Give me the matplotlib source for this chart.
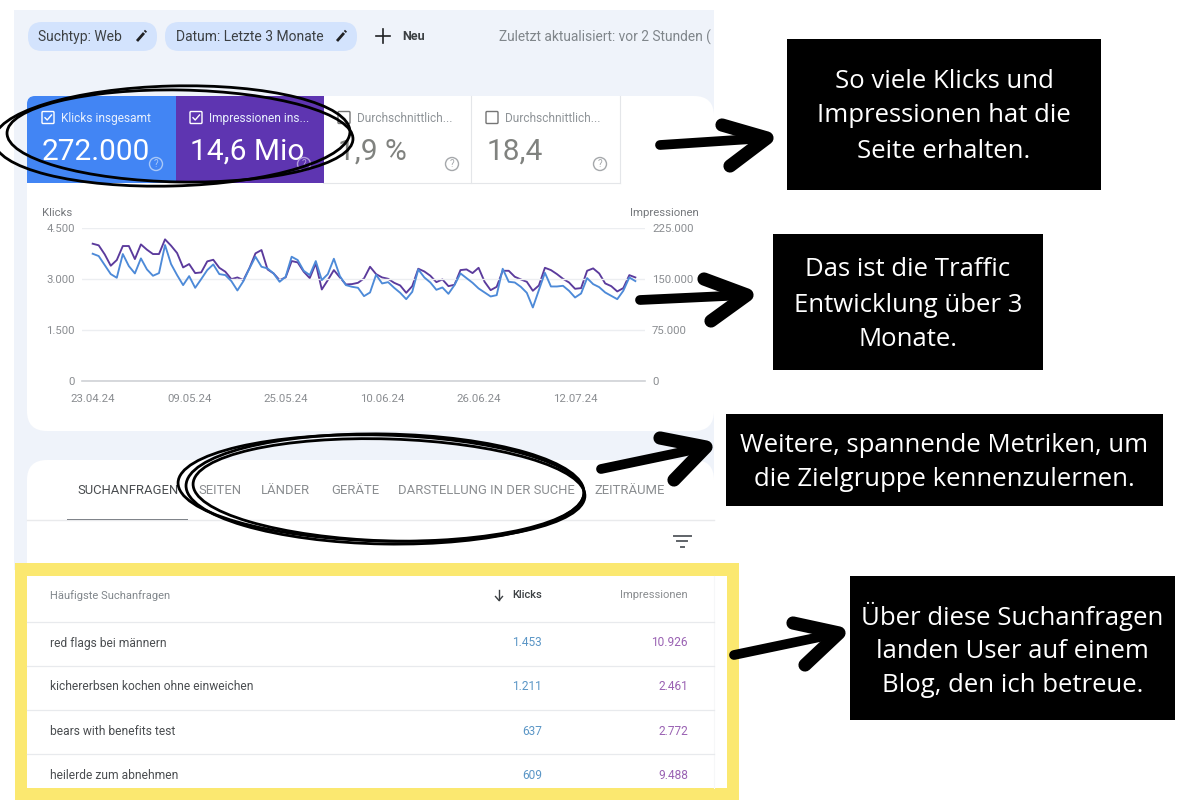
import numpy as np
import matplotlib
matplotlib.use("Agg")
import matplotlib.pyplot as plt
from matplotlib.patches import Rectangle, FancyBboxPatch, Circle, Ellipse

plt.rcParams['font.family'] = ['Roboto', 'DejaVu Sans']

# daily values, 23.04.24 onwards
klicks = [3743, 3675, 3409, 3144, 3036, 3734, 3380, 3164, 3606, 3282, 3095, 3173, 3999,
          3439, 3115, 2820, 3085, 2741, 2997, 3262, 3429, 3144, 3115, 2938, 2663, 2938,
          3311, 3655, 3360, 3311, 3164, 2918, 3065, 3655, 3557, 3242, 3115, 3527, 2967,
          3144, 3596, 3085, 2820, 2771, 2741, 2496, 2604, 3124, 2869, 2908, 2741, 2594,
          2407, 2623, 3282, 3046, 2898, 2682, 2751, 2564, 2820, 3164, 3026, 2889, 2722,
          2604, 2486, 2525, 3301, 2918, 2898, 2771, 2594, 2162, 2672, 3183, 2780, 2780,
          2800, 2653, 2456, 2574, 3026, 2849, 2761, 2604, 2505, 2407, 2653, 3046, 2938]
impressionen = [201900, 199500, 186200, 169500, 177900, 198500, 198500, 179300, 200900,
                193100, 186700, 186700, 208300, 199000, 188200, 167000, 172000, 158700,
                159700, 175900, 178300, 166500, 160700, 149800, 152300, 148400, 166100,
                187700, 192600, 164100, 158200, 148400, 152300, 176400, 174400, 160700,
                151300, 172900, 134600, 148400, 163100, 152300, 142000, 142500, 144400,
                150800, 168000, 157200, 152300, 150300, 144400, 140500, 129700, 139500,
                165100, 161100, 154800, 145400, 149400, 139500, 141500, 163100, 164100,
                158700, 166500, 145900, 133600, 138500, 162100, 162100, 153300, 149400,
                145900, 132700, 140500, 166500, 163100, 157200, 150300, 144900, 135600,
                136600, 162100, 165600, 158200, 143500, 139500, 131700, 136600, 155700,
                152300]
date_ticks = [0, 16, 32, 48, 64, 80]
date_labels = ['23.04.24', '09.05.24', '25.05.24', '10.06.24', '26.06.24', '12.07.24']
klicks_ticks = [0, 1500, 3000, 4500]
klicks_labels = ['0', '1.500', '3.000', '4.500']
impr_ticks = [0, 75000, 150000, 225000]
impr_labels = ['0', '75.000', '150.000', '225.000']

metric_names = ['Klicks insgesamt', 'Impressionen ins...', 'Durchschnittlich...', 'Durchschnittlich...']
metric_values = ['272.000', '14,6 Mio', '1,9 %', '18,4']
tab_names = ['SUCHANFRAGEN', 'SEITEN', 'LÄNDER', 'GERÄTE', 'DARSTELLUNG IN DER SUCHE', 'ZEITRÄUME']
queries = ['red flags bei männern', 'kichererbsen kochen ohne einweichen',
           'bears with benefits test', 'heilerde zum abnehmen']
query_klicks = ['1.453', '1.211', '637', '609']
query_impr = ['10.926', '2.461', '2.772', '9.488']
notes = [['So viele Klicks und', 'Impressionen hat die', 'Seite erhalten.'],
         ['Das ist die Traffic', 'Entwicklung über 3', 'Monate.'],
         ['Weitere, spannende Metriken, um', 'die Zielgruppe kennenzulernen.'],
         ['Über diese Suchanfragen', 'landen User auf einem', 'Blog, den ich betreue.']]

GRAY = '#80868b'
DARK = '#3c4043'

fig = plt.figure(figsize=(12, 8), dpi=100, facecolor='white')


def pixel_axes(z):
    a = fig.add_axes([0, 0, 1, 1], zorder=z)
    a.set_xlim(0, 1200)
    a.set_ylim(800, 0)
    a.axis('off')
    a.patch.set_alpha(0)
    return a


bg = pixel_axes(0)
fg = pixel_axes(3)


def box(a, x0, y0, x1, y1, color, z=1, **kw):
    a.add_patch(Rectangle((x0, y0), x1 - x0, y1 - y0, fc=color, ec=kw.pop('ec', 'none'), zorder=z, **kw))


def rbox(a, x0, y0, x1, y1, r, color, z=1):
    a.add_patch(FancyBboxPatch((x0 + r, y0 + r), x1 - x0 - 2 * r, y1 - y0 - 2 * r,
                               boxstyle='round,pad={},rounding_size={}'.format(r, r),
                               fc=color, ec='none', zorder=z))


def label(a, x, y, s, size=9, color=GRAY, ha='left', weight='normal', family=None, z=5):
    return a.text(x, y, s, fontsize=size, color=color, ha=ha, va='center', fontweight=weight,
                  family=family or ['Roboto', 'DejaVu Sans'], zorder=z)


def checkbox(x, y, color, checked):
    bg.add_patch(FancyBboxPatch((x + 1, y + 1), 10, 10, boxstyle='round,pad=1,rounding_size=1',
                                fc='none', ec=color, lw=1, zorder=5))
    if checked:
        bg.plot([x + 3, x + 5.2, x + 9.5], [y + 6.2, y + 8.5, y + 3.5], color=color, lw=1, zorder=5)


def help_icon(a, x, y, color):
    a.add_patch(Circle((x, y), 6.5, fc='none', ec=color, lw=1, zorder=6))
    label(a, x, y + 0.3, '?', size=7, color=color, ha='center', z=6)


def pencil(x, y):
    bg.plot([x - 4, x + 3], [y + 5, y - 3], color='#202124', lw=2, solid_capstyle='butt', zorder=5)
    bg.plot([x + 3.8, x + 5], [y - 4, y - 5.3], color='#202124', lw=2, solid_capstyle='butt', zorder=5)


# page background and cards
box(bg, 14, 10, 714, 570, '#eff3fa', z=0)
rbox(bg, 27, 96, 714, 431, 20, 'white')
rbox(bg, 27, 460, 714, 600, 20, 'white')

# filter chips
rbox(bg, 28, 22, 157, 51, 14, '#d3e3fd', z=2)
rbox(bg, 165, 22, 357, 51, 14, '#d3e3fd', z=2)
label(bg, 38.5, 37, 'Suchtyp: Web', size=10, color=DARK)
label(bg, 176, 37, 'Datum: Letzte 3 Monate', size=10, color=DARK)
pencil(141, 36)
pencil(341, 36)
bg.plot([383, 383], [29, 43], color='#202124', lw=1.2, zorder=5)
bg.plot([376, 390], [36, 36], color='#202124', lw=1.2, zorder=5)
label(bg, 402, 37, 'Neu', size=9, color=DARK, weight='bold')
label(bg, 499, 37, 'Zuletzt aktualisiert: vor 2 Stunden (', size=9.9, color=GRAY)
box(bg, 714, 20, 785, 55, 'white', z=6)

# metric cards
rbox(bg, 27, 96, 70, 140, 8, '#4285f4', z=2)
box(bg, 27, 106, 176, 183, '#4285f4', z=2)
box(bg, 37, 96, 176, 183, '#4285f4', z=2)
box(bg, 176, 96, 323.5, 183, '#5e35b1', z=2)
bg.plot([471, 471], [96, 183], color='#e4e6e9', lw=0.8, zorder=2)
bg.plot([619.5, 619.5], [96, 183], color='#e4e6e9', lw=0.8, zorder=2)
bg.plot([323, 619.5], [183, 183], color='#e4e6e9', lw=0.8, zorder=2)
card_x = [42, 190, 338, 486]
for i, x in enumerate(card_x):
    on = i < 2
    col = 'white' if on else GRAY
    checkbox(x, 111.5, col if on else '#757575', on)
    label(bg, x + 19, 118.5, metric_names[i], size=8.6, color='#e8f0fe' if on else '#8f9498')
    label(bg, x + (0 if i != 3 else 1), 152, metric_values[i], size=21.5, color=col if on else '#80827f')
    help_icon(bg, x + 114, 164, '#a9c8f7' if i == 0 else '#b39ddb' if i == 1 else '#a5a8ab')

# line chart, axes placed on the grid lines
rect = [82 / 1200, 1 - 381 / 800, (645 - 82) / 1200, (381 - 228) / 800]
ax = fig.add_axes(rect)
ax.patch.set_alpha(0)
days = np.arange(len(klicks))
ax.set_xlim(-1.77, 91.6)
ax.set_ylim(0, 4500)
ax.set_yticks(klicks_ticks)
ax.set_yticklabels(klicks_labels)
ax.set_xticks(date_ticks)
ax.set_xticklabels(date_labels)
ax.tick_params(length=0, labelsize=8.2, labelcolor='#8a8d91')
ax.tick_params(axis='y', pad=5)
ax.tick_params(axis='x', pad=9)
ax.grid(axis='y', color='#eceef1', lw=1)
ax.set_axisbelow(True)
for s in ax.spines.values():
    s.set_visible(False)
ax.axhline(0, color='#cfd2d6', lw=1.2, clip_on=False)

ax2 = ax.twinx()
ax2.set_ylim(0, 225000)
ax2.set_yticks(impr_ticks)
ax2.set_yticklabels(impr_labels)
ax2.tick_params(length=0, labelsize=8.2, labelcolor='#8a8d91', pad=5)
for s in ax2.spines.values():
    s.set_visible(False)
ax2.plot(days, impressionen, color='#5b3a9c', lw=1.35)
# klicks on top of impressionen
ax2.set_zorder(1)
ax2.patch.set_alpha(0)
ax.set_zorder(2)
ax.plot(days, klicks, color='#4d8ad8', lw=1.35, zorder=3)

label(bg, 42, 212.5, 'Klicks', size=8.2, color='#75787c')
label(bg, 699, 212.5, 'Impressionen', size=8.2, color='#75787c', ha='right')

# tabs
tab_x = [77, 198, 261, 331, 398, 594]
for i, (x, t) in enumerate(zip(tab_x, tab_names)):
    label(bg, x, 490.5, t, size=9.35, color='#4a4d50' if i == 0 else '#8a8d90')
bg.plot([27, 714], [520, 520], color='#e9eaec', lw=1, zorder=2)
box(bg, 67, 518.5, 188, 520, '#80848a', z=3)
for w, y in zip([17, 10, 3], [535.5, 541, 546.5]):
    bg.plot([682 - w / 2, 682 + w / 2], [y, y], color='#5f6368', lw=1.4, zorder=3)

# table inside the yellow frame
box(bg, 14.5, 563, 738.5, 800, '#fbe870', z=3)
box(bg, 27, 576, 727, 788, 'white', z=3.5)
bg.plot([714, 714], [576, 788], color='#f6f7f8', lw=0.8, zorder=4)
label(bg, 50, 595.5, 'Häufigste Suchanfragen', size=8, color='#80868b')
label(bg, 542, 595.5, 'Klicks', size=8, color=DARK, ha='right', weight='medium')
label(bg, 688, 595.5, 'Impressionen', size=8.1, color='#8a8d90', ha='right')
bg.plot([499, 499], [590, 600], color=DARK, lw=1, zorder=5)
bg.plot([495.5, 499, 502.5], [596.5, 600.5, 596.5], color=DARK, lw=1, zorder=5)
row_y = [643, 687, 731.5, 775.5]
for y in [621.5, 665.5, 709.5, 753.5]:
    bg.plot([27, 714], [y, y], color='#e8eaed', lw=0.9, zorder=4)
for y, q, k, m in zip(row_y, queries, query_klicks, query_impr):
    label(bg, 50, y, q, size=8.65, color='#4a4d50')
    label(bg, 542, y, k, size=8.6, color='#5b96c6', ha='right')
    label(bg, 688, y, m, size=8.6, color='#9a62b3', ha='right')

# black note boxes
note_boxes = [(787, 39, 1101, 190), (773, 234, 1043, 370), (726, 414, 1163, 506), (850, 576, 1175, 720)]
note_rows = [[81, 116, 151], [270, 305, 340], [445, 480], [616, 651, 686]]
for (x0, y0, x1, y1), rows, lines in zip(note_boxes, note_rows, notes):
    box(fg, x0, y0, x1, y1, 'black', z=1)
    for y, s in zip(rows, lines):
        label(fg, (x0 + x1) / 2, y, s, size=18.5, color='white', ha='center', family=['Open Sans', 'DejaVu Sans'])

# hand drawn arrows: shaft start, tip, two head ends
arrows = [((660, 145), (767, 138), (722, 125), (730, 166)),
          ((640, 300), (747, 295), (704, 279), (711, 321)),
          ((601, 469), (706, 447), (660, 438), (674, 480)),
          ((734, 655), (839, 633), (793, 623), (805, 665))]
for start, tip, h1, h2 in arrows:
    fg.plot([start[0], tip[0]], [start[1], tip[1]], color='black', lw=7, solid_capstyle='round', zorder=3)
    fg.plot([h1[0], tip[0], h2[0]], [h1[1], tip[1], h2[1]], color='black', lw=9.5,
            solid_capstyle='round', solid_joinstyle='round', zorder=3)

# scribbled ellipses around metrics and tabs
rings = [(180, 136, 346, 92, 1.0), (172, 136, 356, 100, -1.5),
         (381, 488, 406, 106, 1.5), (389, 490, 392, 102, 1.8), (385, 489, 398, 110, 1.0)]
for cx, cy, w, h, ang in rings:
    fg.add_patch(Ellipse((cx, cy), w, h, angle=ang, fc='none', ec='black', lw=2, zorder=4))

fig.savefig('out.png', dpi=100)
